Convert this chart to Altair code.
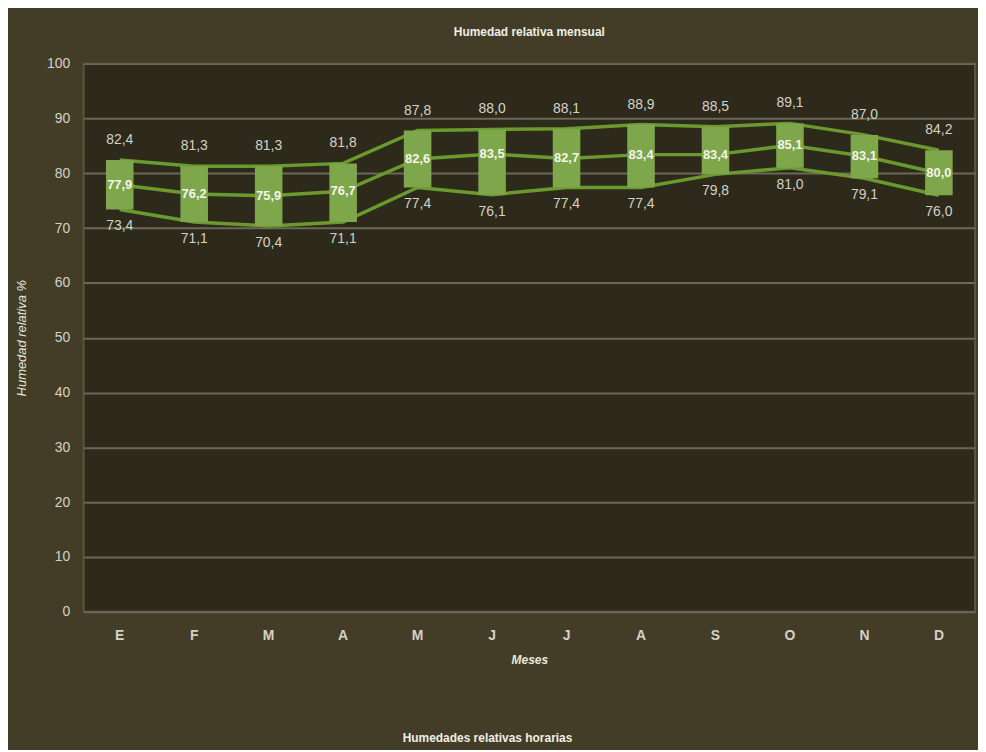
import altair as alt
import pandas as pd

months = ["E", "F", "M", "A", "M", "J", "J", "A", "S", "O", "N", "D"]
hr_max = [82.4, 81.3, 81.3, 81.8, 87.8, 88.0, 88.1, 88.9, 88.5, 89.1, 87.0, 84.2]
hr_mean = [77.9, 76.2, 75.9, 76.7, 82.6, 83.5, 82.7, 83.4, 83.4, 85.1, 83.1, 80.0]
hr_min = [73.4, 71.1, 70.4, 71.1, 77.4, 76.1, 77.4, 77.4, 79.8, 81.0, 79.1, 76.0]

def fmt(v):
    return f"{v:.1f}".replace(".", ",")

df = pd.DataFrame({
    "idx": list(range(12)),
    "mes": months,
    "max": hr_max,
    "mean": hr_mean,
    "min": hr_min,
    "max_l": [fmt(v) for v in hr_max],
    "mean_l": [fmt(v) for v in hr_mean],
    "min_l": [fmt(v) for v in hr_min],
})

label_expr = "[" + ",".join(f"'{m}'" for m in months) + "][datum.value]"

FONT = "Liberation Sans"
LINE_C = "#6a9a2e"
BAR_C = "#7ea64a"
TXT_C = "#d4d2c4"

x = alt.X("idx:O", title="Meses",
          scale=alt.Scale(paddingInner=0.63, paddingOuter=0.3),
          axis=alt.Axis(labelExpr=label_expr, labelAngle=0, labelColor=TXT_C,
                        labelFont=FONT, labelFontSize=14, labelFontWeight="bold",
                        labelPadding=17, ticks=False, domain=False,
                        titleFont=FONT, titleFontSize=12, titleFontStyle="italic",
                        titleFontWeight="bold", titleColor="#e8e6da", titlePadding=12))
yscale = alt.Scale(domain=[0, 100], nice=False)
yaxis = alt.Axis(values=list(range(0, 101, 10)), title="Humedad relativa %",
                 labelColor=TXT_C, labelFont=FONT, labelFontSize=14, labelPadding=14,
                 ticks=False, domain=False, grid=True, gridColor="#6a6958", gridWidth=2,
                 titleFont=FONT, titleFontSize=13, titleFontStyle="italic",
                 titleFontWeight="normal", titleColor="#e8e6da", titlePadding=18)

def Y(field):
    return alt.Y(f"{field}:Q", scale=yscale, axis=yaxis, title="Humedad relativa %")

base = alt.Chart(df)

lines = [
    base.mark_line(color=LINE_C, strokeWidth=3.5).encode(x=x, y=Y(c))
    for c in ["max", "mean", "min"]
]

bars = base.mark_bar(color=BAR_C).encode(x=x, y=Y("max"), y2="min:Q")

max_t = base.mark_text(dy=-20, font=FONT, fontSize=14, color=TXT_C).encode(
    x=x, y=Y("max"), text="max_l:N")
min_t = base.mark_text(dy=17, font=FONT, fontSize=14, color=TXT_C).encode(
    x=x, y=Y("min"), text="min_l:N")
mean_t = base.mark_text(font=FONT, fontSize=13, fontWeight="bold", color="#f4f4ec").encode(
    x=x, y=Y("mean"), text="mean_l:N")

bottom = alt.Chart(pd.DataFrame({"t": ["Humedades relativas horarias"]})).mark_text(
    font=FONT, fontSize=12, fontWeight="bold", color="#f0eee4", baseline="middle"
).encode(x=alt.value(406), y=alt.value(678), text="t:N")

chart = alt.layer(*lines, bars, max_t, min_t, mean_t, bottom).properties(
    width=896, height=551,
    background="#433d27",
    padding={"left": 76, "top": 54, "right": 3, "bottom": 137},
    autosize=alt.AutoSizeParams(type="none"),
    title=alt.TitleParams("Humedad relativa mensual", font=FONT, fontSize=12,
                          fontWeight="bold", color="#f0eee4", offset=18, anchor="middle"),
).configure_view(fill="#2e2a1b", stroke="#5a5540", strokeWidth=2)

chart.save("out.html", embed_options={"renderer": "svg", "actions": False})
